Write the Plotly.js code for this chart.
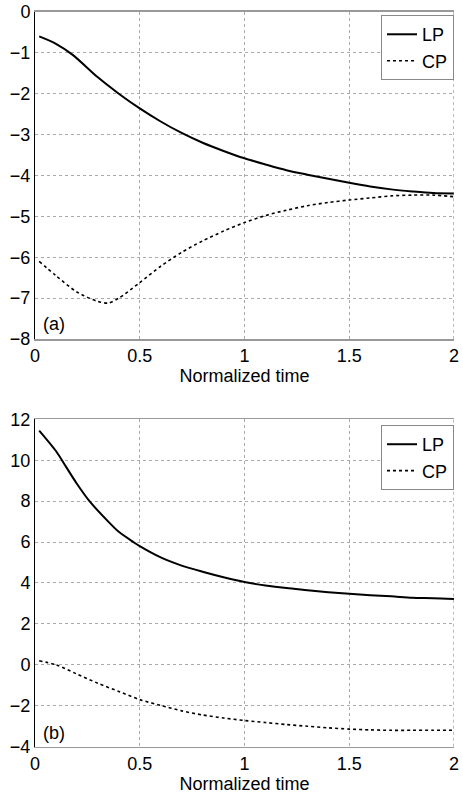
<!DOCTYPE html>
<html><head><meta charset="utf-8">
<script src="https://cdn.plot.ly/plotly-3.0.1.min.js"></script>
<style>html,body{margin:0;padding:0;background:#fff}#c{width:463px;height:794px}</style>
</head><body><div id="c"></div>
<script>
const timeA = [0.02,0.1,0.18,0.3,0.4,0.5,0.6,0.7,0.8,0.9,1.0,1.1,1.2,1.3,1.4,1.5,1.6,1.7,1.8,1.9,2.0];
const lpA = [-0.6,-0.78,-1.05,-1.6,-2.0,-2.36,-2.68,-2.96,-3.2,-3.4,-3.58,-3.73,-3.87,-3.98,-4.08,-4.18,-4.27,-4.34,-4.39,-4.43,-4.44];
const timeA2 = [0.02,0.1,0.2,0.3,0.35,0.4,0.5,0.6,0.7,0.8,0.9,1.0,1.1,1.2,1.3,1.4,1.5,1.6,1.7,1.8,1.9,2.0];
const cpA = [-6.1,-6.45,-6.85,-7.08,-7.12,-7.0,-6.62,-6.22,-5.88,-5.6,-5.36,-5.15,-4.98,-4.85,-4.74,-4.66,-4.6,-4.55,-4.5,-4.48,-4.48,-4.52];
const timeB = [0.02,0.1,0.15,0.2,0.26,0.35,0.4,0.47,0.5,0.6,0.7,0.8,0.9,1.0,1.1,1.2,1.3,1.4,1.5,1.6,1.7,1.8,1.9,2.0];
const lpB = [11.45,10.45,9.65,8.85,8.0,7.0,6.5,6.0,5.8,5.25,4.85,4.55,4.28,4.05,3.88,3.75,3.65,3.55,3.47,3.4,3.35,3.28,3.26,3.22];
const timeB2 = [0.02,0.1,0.2,0.3,0.4,0.5,0.6,0.7,0.8,0.9,1.0,1.1,1.2,1.3,1.4,1.5,1.6,1.7,1.8,1.9,2.0];
const cpB = [0.2,0.0,-0.45,-0.9,-1.3,-1.7,-1.98,-2.25,-2.45,-2.6,-2.72,-2.82,-2.92,-3.0,-3.08,-3.14,-3.18,-3.2,-3.2,-3.2,-3.2];
const xTicks = [0,0.5,1,1.5,2];
const xTickText = ['0','0.5','1','1.5','2'];
const yTicksA = [0,-1,-2,-3,-4,-5,-6,-7,-8];
const yTicksB = [12,10,8,6,4,2,0,-2,-4];

const F = {family:'Liberation Sans, Arial, sans-serif', size:18, color:'#000'};
const traces = [
  {x:timeA, y:lpA, name:'LP', mode:'lines', line:{color:'#000',width:2,shape:'spline',smoothing:0.8}, xaxis:'x', yaxis:'y', legend:'legend'},
  {x:timeA2, y:cpA, name:'CP', mode:'lines', line:{color:'#000',width:1.6,dash:'dot',shape:'spline',smoothing:0.8}, xaxis:'x', yaxis:'y', legend:'legend'},
  {x:timeB, y:lpB, name:'LP', mode:'lines', line:{color:'#000',width:2,shape:'spline',smoothing:0.8}, xaxis:'x2', yaxis:'y2', legend:'legend2'},
  {x:timeB2, y:cpB, name:'CP', mode:'lines', line:{color:'#000',width:1.6,dash:'dot',shape:'spline',smoothing:0.8}, xaxis:'x2', yaxis:'y2', legend:'legend2'}
];
function xa(anchor){return {anchor:anchor, range:[0,2], tickvals:xTicks, ticktext:xTickText, showgrid:true, gridcolor:'#aaa', griddash:'dot', gridwidth:1,
  showline:true, linecolor:'#999', linewidth:1.5, mirror:true, ticks:'', zeroline:false, tickfont:F,
  title:{text:'Normalized time', font:F, standoff:2}};}
function ya(anchor, dom, rng, tv){return {anchor:anchor, domain:dom, range:rng, tickvals:tv, showgrid:true, gridcolor:'#aaa', griddash:'dot', gridwidth:1,
  showline:true, linecolor:'#000', linewidth:1, mirror:false, ticks:'', zeroline:false, tickfont:F};}
const legStyle = {xanchor:'right', x:1.0, yanchor:'top', bgcolor:'#fff', bordercolor:'#888', borderwidth:1, font:F, itemwidth:30, tracegroupgap:0, entrywidth:60};
const layout = {
  width:463, height:794, margin:{l:35, r:9, t:0, b:0}, paper_bgcolor:'#fff', plot_bgcolor:'#fff',
  showlegend:true,
  xaxis: xa('y'),
  yaxis: ya('x', [0.573,0.985], [-8,0], yTicksA),
  xaxis2: xa('y2'),
  yaxis2: ya('x2', [0.0596,0.4719], [-4,12], yTicksB),
  legend: Object.assign({y:0.981}, legStyle),
  legend2: Object.assign({y:0.4647}, legStyle),
  shapes:[
    {type:'line', xref:'x', yref:'paper', x0:2, x1:2, y0:0.573, y1:0.985, line:{color:'#777', width:1, dash:'dot'}},
    {type:'line', xref:'x2', yref:'paper', x0:2, x1:2, y0:0.0596, y1:0.4719, line:{color:'#777', width:1, dash:'dot'}}
  ],
  annotations:[
    {xref:'x', yref:'y', x:0.03, y:-7.62, text:'(a)', showarrow:false, xanchor:'left', font:F},
    {xref:'x2', yref:'y2', x:0.03, y:-3.34, text:'(b)', showarrow:false, xanchor:'left', font:F}
  ]
};
Plotly.newPlot('c', traces, layout, {displayModeBar:false, staticPlot:true});
</script></body></html>
